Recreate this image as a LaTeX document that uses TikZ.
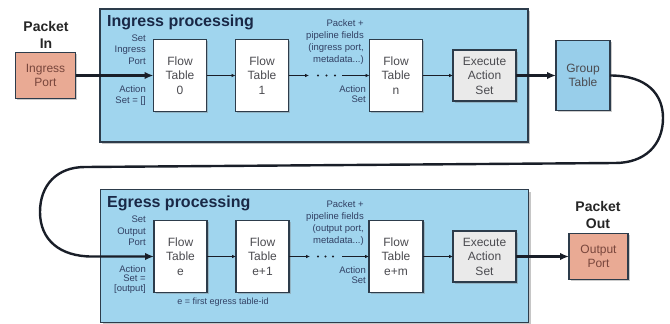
\documentclass[tikz,border=0pt]{standalone}
\usepackage{fontspec}
\setmainfont{Liberation Sans}
\usetikzlibrary{shadows,arrows.meta}
\definecolor{panelblue}{RGB}{160,213,238}
\definecolor{gtblue}{RGB}{152,206,234}
\definecolor{portred}{RGB}{233,170,148}
\definecolor{execgray}{RGB}{234,234,234}
\definecolor{edgec}{RGB}{45,60,75}
\definecolor{lbl}{RGB}{50,65,100}
\definecolor{ttl}{RGB}{25,40,70}
\definecolor{boxtxt}{RGB}{75,75,80}
\definecolor{porttxt}{RGB}{120,70,60}
\definecolor{wire}{RGB}{25,30,40}
\begin{document}
\begin{tikzpicture}[x=1pt,y=-1pt,
 panel/.style={draw=edgec,line width=1.6pt,fill=panelblue,inner sep=0pt,outer sep=0pt,minimum width=428pt,minimum height=133pt,drop shadow={shadow xshift=2pt,shadow yshift=-2pt,opacity=0.45}},
 boxbase/.style={draw=edgec,line width=1.2pt,inner sep=0pt,outer sep=0pt,align=center,text=boxtxt,font=\fontsize{12}{14.5}\selectfont,drop shadow={shadow xshift=1.6pt,shadow yshift=-1.6pt,opacity=0.4}},
 tbl/.style={boxbase,fill=white,minimum width=53pt,minimum height=72pt},
 execbox/.style={boxbase,fill=execgray,minimum width=63pt,minimum height=51pt},
 gtbox/.style={boxbase,fill=gtblue,minimum width=54pt,minimum height=70pt},
 portbox/.style={boxbase,fill=portred,text=porttxt,minimum width=60pt,minimum height=46pt},
 ttlstyle/.style={font=\fontsize{16}{19}\selectfont\bfseries,text=ttl,inner sep=0pt},
 headlbl/.style={font=\fontsize{14}{17}\selectfont\bfseries,text=black!85,align=center,inner sep=0pt},
 small/.style={font=\fontsize{9.5}{11.5}\selectfont,text=lbl,align=right,inner sep=0pt,anchor=east},
 thick arrow/.style={draw=wire,line width=2.4pt,-{Latex[length=9pt,width=7.5pt]}},
 thin arrow/.style={draw=wire,line width=0.9pt,-{Latex[length=4pt,width=3.6pt]}},
 dotc/.style={fill=wire,circle,inner sep=0pt,minimum size=2.2pt}
]
\useasboundingbox (0,0) rectangle (670,324);
% panels
\node[panel] (ing) at (314,75.5) {};
\node[panel] (egr) at (314.5,256) {};
\node[ttlstyle,anchor=base west] (ingt) at (107,27) {Ingress processing};
\node[ttlstyle,anchor=base west] (egrt) at (107,207) {Egress processing};
% ingress row
\node[headlbl] (pin) at (46,34.5) {Packet\\In};
\node[portbox] (inport) at (45.5,75.5) {Ingress\\Port};
\node[tbl] (ft0) at (180,75.5) {Flow\\Table\\0};
\node[tbl] (ft1) at (262,75.5) {Flow\\Table\\1};
\node[tbl] (ftn) at (396,75.5) {Flow\\Table\\n};
\node[execbox] (exi) at (484.5,75.5) {Execute\\Action\\Set};
\node[gtbox] (gt) at (583,75.5) {Group\\Table};
\node[small] (l1) at (146,49.5) {Set\\Ingress\\Port};
\node[small] (l2) at (146,95.5) {Action\\Set = []};
\node[small,font=\fontsize{9.5}{12}\selectfont] (l3) at (364,42.5) {Packet +\\pipeline fields\\(ingress port,\\metadata...)};
\node[small,font=\fontsize{9.5}{10.5}\selectfont] (l4) at (366,94) {Action\\Set};
% egress row
\node[headlbl] (pout) at (598,215) {Packet\\Out};
\node[portbox,minimum width=59pt] (outport) at (598.5,256.5) {Output\\Port};
\node[tbl] (fte) at (180.5,256.5) {Flow\\Table\\e};
\node[tbl] (fte1) at (262.5,256.5) {Flow\\Table\\e+1};
\node[tbl,minimum width=54pt] (ftem) at (396,256.5) {Flow\\Table\\e+m};
\node[execbox] (exe) at (484.5,256.5) {Execute\\Action\\Set};
\node[small] (m1) at (146,231) {Set\\Output\\Port};
\node[small,font=\fontsize{9.5}{9.5}\selectfont] (m2) at (146,279.5) {Action\\Set =\\{[}output{]}};
\node[small,font=\fontsize{9.5}{12}\selectfont] (m3) at (364,223.5) {Packet +\\pipeline fields\\(output port,\\metadata...)};
\node[small,font=\fontsize{9.5}{9.5}\selectfont] (m4) at (366,275) {Action\\Set};
\node[font=\fontsize{9}{11}\selectfont,text=lbl,inner sep=0pt] (note) at (223,302) {e = first egress table-id};
% ingress connectors
\coordinate (a1) at (309,75.5);
\coordinate (a2) at (342,75.5);
\node[dotc] (ad1) at (318,75.5) {};
\node[dotc] (ad2) at (326.5,75.5) {};
\node[dotc] (ad3) at (335,75.5) {};
\draw[thick arrow] (inport.east) -- (ft0.west);
\draw[thin arrow] (ft0.east) -- (ft1.west);
\draw[thin arrow] (ft1.east) -- (a1);
\draw[thin arrow] (a2) -- (ftn.west);
\draw[thin arrow] (ftn.east) -- (exi.west);
\draw[thick arrow] (exi.east) -- (gt.west);
% egress connectors
\coordinate (b1) at (310,256.5);
\coordinate (b2) at (342,256.5);
\node[dotc] (bd1) at (318,256.5) {};
\node[dotc] (bd2) at (325.5,256.5) {};
\node[dotc] (bd3) at (333,256.5) {};
\draw[thin arrow] (fte.east) -- (fte1.west);
\draw[thin arrow] (fte1.east) -- (b1);
\draw[thin arrow] (b2) -- (ftem.west);
\draw[thin arrow] (ftem.east) -- (exe.west);
\draw[thick arrow] (exe.east) -- (outport.west);
% loop from group table to egress
\coordinate (r1) at (663,118);
\coordinate (r2) at (615,163);
\coordinate (q1) at (85,167);
\coordinate (q2) at (40,212);
\coordinate (q3) at (92,256.5);
\draw[thick arrow,rounded corners=0pt] (gt.east) .. controls (648,75.5) and (663,95) .. (r1)
  .. controls (663,145) and (645,163) .. (r2) -- (q1)
  .. controls (57,167) and (40,185) .. (q2)
  .. controls (40,240) and (60,256.5) .. (q3) -- (fte.west);
\end{tikzpicture}
\end{document}
